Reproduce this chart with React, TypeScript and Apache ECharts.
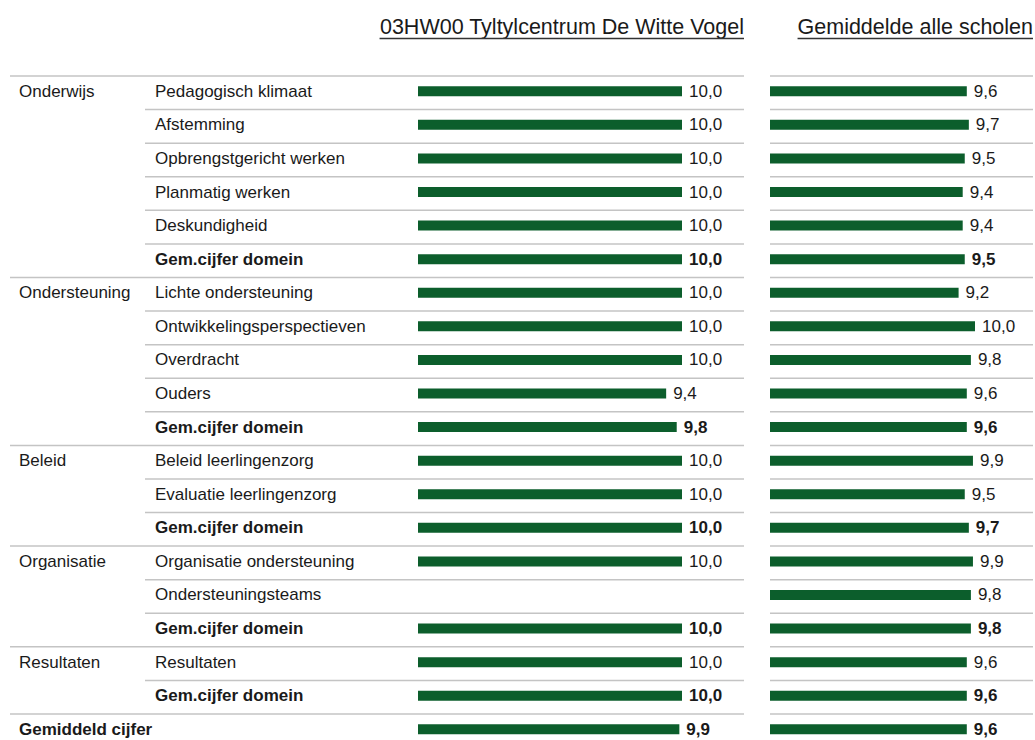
import React, { useEffect, useRef } from "react";
import * as echarts from "echarts";

const domains = ["Onderwijs", "", "", "", "", "", "Ondersteuning", "", "", "", "", "Beleid", "", "", "Organisatie", "", "", "Resultaten", "", "Gemiddeld cijfer"];
const items = [
  "Pedagogisch klimaat", "Afstemming", "Opbrengstgericht werken", "Planmatig werken", "Deskundigheid", "Gem.cijfer domein",
  "Lichte ondersteuning", "Ontwikkelingsperspectieven", "Overdracht", "Ouders", "Gem.cijfer domein",
  "Beleid leerlingenzorg", "Evaluatie leerlingenzorg", "Gem.cijfer domein",
  "Organisatie ondersteuning", "Ondersteuningsteams", "Gem.cijfer domein",
  "Resultaten", "Gem.cijfer domein", "",
];
const boldRows = [false, false, false, false, false, true, false, false, false, false, true, false, false, true, false, false, true, false, true, true];
const schoolValues: (number | null)[] = [10.0, 10.0, 10.0, 10.0, 10.0, 10.0, 10.0, 10.0, 10.0, 9.4, 9.8, 10.0, 10.0, 10.0, 10.0, null, 10.0, 10.0, 10.0, 9.9];
const allValues = [9.6, 9.7, 9.5, 9.4, 9.4, 9.5, 9.2, 10.0, 9.8, 9.6, 9.6, 9.9, 9.5, 9.7, 9.9, 9.8, 9.8, 9.6, 9.6, 9.6];
const domainStartRows = [0, 6, 11, 14, 17, 19];
const title1 = "03HW00 Tyltylcentrum De Witte Vogel";
const title2 = "Gemiddelde alle scholen";

const FONT = "'Liberation Sans', Arial, sans-serif";
const GREEN = "#0c5e2c";
const TEXT = "#1a1a1a";
const LINE = "#c4c4c4";
const ROW_TOP = 76;
const ROW_H = 33.58;
const FS = 17;
const TFS = 21.5;

function measure(text: string, font: string): number {
  const c = document.createElement("canvas").getContext("2d");
  if (!c) return text.length * 10;
  c.font = font;
  return c.measureText(text).width;
}

const fmt = (v: number) => v.toFixed(1).replace(".", ",");

export default function App() {
  const ref = useRef<HTMLDivElement>(null);
  useEffect(() => {
    if (!ref.current) return;
    const chart = echarts.init(ref.current, null, { renderer: "svg" });
    const n = items.length;
    const categories = items.map((_, i) => String(i));

    const graphic: any[] = [];
    for (let i = 0; i < n; i++) {
      const y = ROW_TOP + i * ROW_H;
      const isDomain = domainStartRows.includes(i);
      graphic.push({
        type: "line",
        shape: { x1: isDomain ? 10 : 145, y1: y, x2: 744, y2: y },
        style: { stroke: LINE, lineWidth: 1.5 },
        silent: true,
      });
      graphic.push({
        type: "line",
        shape: { x1: 770, y1: y, x2: 1033, y2: y },
        style: { stroke: LINE, lineWidth: 1.5 },
        silent: true,
      });
    }
    const tFont = `${TFS}px ${FONT}`;
    const w1 = measure(title1, `${TFS}px 'Liberation Sans'`);
    const w2 = measure(title2, `${TFS}px 'Liberation Sans'`);
    graphic.push(
      { type: "text", x: 744, y: 27, style: { text: title1, font: tFont, fill: TEXT, textAlign: "right", textVerticalAlign: "middle" } },
      { type: "line", shape: { x1: 744 - w1, y1: 38.5, x2: 744, y2: 38.5 }, style: { stroke: "#333", lineWidth: 1.5 } },
      { type: "text", x: 1033, y: 27, style: { text: title2, font: tFont, fill: TEXT, textAlign: "right", textVerticalAlign: "middle" } },
      { type: "line", shape: { x1: 1033 - w2, y1: 38.5, x2: 1033, y2: 38.5 }, style: { stroke: "#333", lineWidth: 1.5 } }
    );

    const makeData = (vals: (number | null)[]) =>
      vals.map((v, i) => ({
        value: v === null ? "-" : v,
        label: { fontWeight: boldRows[i] ? "bold" : "normal" },
      }));

    const valueLabel = {
      show: true,
      position: "right",
      distance: 7,
      fontFamily: FONT,
      fontSize: FS,
      color: TEXT,
      formatter: (p: any) => (typeof p.value === "number" ? fmt(p.value) : ""),
    };

    chart.setOption({
      animation: false,
      graphic,
      grid: [
        { left: 418, top: ROW_TOP - 1.5, width: 264, height: n * ROW_H },
        { left: 770, top: ROW_TOP - 1.5, width: 205, height: n * ROW_H },
      ],
      xAxis: [
        { type: "value", gridIndex: 0, min: 0, max: 10, show: false },
        { type: "value", gridIndex: 1, min: 0, max: 10, show: false },
      ],
      yAxis: [
        {
          type: "category",
          gridIndex: 0,
          inverse: true,
          data: categories,
          axisLine: { show: false },
          axisTick: { show: false },
          splitLine: { show: false },
          axisLabel: {
            show: true,
            interval: 0,
            align: "left",
            margin: 399,
            formatter: (val: string) => {
              const i = Number(val);
              const d = domains[i];
              const dStyle = i === n - 1 ? "db" : "d";
              const sStyle = boldRows[i] ? "sb" : "s";
              const s = items[i];
              return `{${dStyle}|${d || " "}}` + (s ? `{${sStyle}|${s}}` : "");
            },
            rich: {
              d: { width: 136, fontFamily: FONT, fontSize: FS, color: TEXT },
              db: { width: 200, fontFamily: FONT, fontSize: FS, fontWeight: "bold", color: TEXT },
              s: { fontFamily: FONT, fontSize: FS, color: TEXT },
              sb: { fontFamily: FONT, fontSize: FS, fontWeight: "bold", color: TEXT },
            },
          },
        },
        {
          type: "category",
          gridIndex: 1,
          inverse: true,
          data: categories,
          show: false,
        },
      ],
      series: [
        {
          type: "bar",
          xAxisIndex: 0,
          yAxisIndex: 0,
          barWidth: 10,
          itemStyle: { color: GREEN },
          label: valueLabel,
          data: makeData(schoolValues),
        },
        {
          type: "bar",
          xAxisIndex: 1,
          yAxisIndex: 1,
          barWidth: 10,
          itemStyle: { color: GREEN },
          label: valueLabel,
          data: makeData(allValues),
        },
      ],
    });
    return () => chart.dispose();
  }, []);
  return (
    <div style={{ position: "absolute", left: 0, top: 0, width: 1035, height: 740, overflow: "hidden", background: "#fff" }}>
      <div ref={ref} style={{ width: 1035, height: 780 }} />
    </div>
  );
}
